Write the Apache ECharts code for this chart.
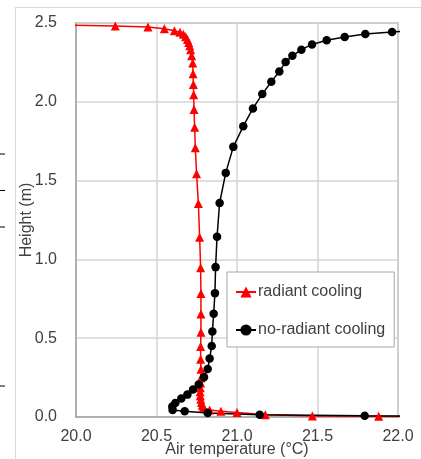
<!DOCTYPE html>
<html>
<head>
<meta charset="utf-8">
<script src="https://cdn.jsdelivr.net/npm/echarts@6/dist/echarts.min.js"></script>
<style>
html,body{margin:0;padding:0;background:#fff;}
#c{width:421px;height:459px;}
</style>
</head>
<body>
<div id="c"></div>
<script>
// Axis ticks
var xTicks = [20.0, 20.5, 21.0, 21.5, 22.0];
var yTicks = [0.0, 0.5, 1.0, 1.5, 2.0, 2.5];

// Series names
var seriesNames = ['radiant cooling', 'no-radiant cooling'];

// radiant cooling (red triangles): temperature (°C) and height (m)
var radiantTemp = [19.8, 20.244, 20.447, 20.549, 20.611, 20.646, 20.667, 20.681, 20.692, 20.700, 20.706, 20.712, 20.718, 20.725, 20.727, 20.729, 20.731, 20.733, 20.737, 20.741, 20.749, 20.760, 20.768, 20.774, 20.776, 20.776, 20.776, 20.774, 20.774, 20.776, 20.776, 20.774, 20.772, 20.771, 20.772, 20.775, 20.779, 20.784, 20.790, 20.830, 20.900, 21.000, 21.176, 21.468, 21.880, 22.2];
var radiantHeight = [2.490, 2.481, 2.475, 2.464, 2.451, 2.441, 2.428, 2.413, 2.396, 2.377, 2.356, 2.331, 2.292, 2.246, 2.178, 2.110, 2.044, 1.951, 1.839, 1.708, 1.544, 1.354, 1.140, 0.947, 0.784, 0.653, 0.538, 0.447, 0.367, 0.303, 0.248, 0.215, 0.185, 0.160, 0.135, 0.112, 0.092, 0.075, 0.060, 0.045, 0.037, 0.028, 0.014, 0.006, 0.004, 0.003];

// no-radiant cooling (black circles): temperature (°C) and height (m)
var noRadiantTemp = [22.15, 21.963, 21.797, 21.669, 21.557, 21.466, 21.400, 21.344, 21.302, 21.263, 21.213, 21.157, 21.099, 21.039, 20.977, 20.930, 20.892, 20.876, 20.867, 20.863, 20.855, 20.847, 20.843, 20.830, 20.818, 20.795, 20.762, 20.727, 20.692, 20.654, 20.617, 20.598, 20.600, 20.675, 20.818, 21.141, 21.793, 22.3];
var noRadiantHeight = [2.455, 2.443, 2.430, 2.411, 2.390, 2.364, 2.331, 2.292, 2.252, 2.193, 2.127, 2.049, 1.958, 1.845, 1.714, 1.549, 1.358, 1.144, 0.951, 0.786, 0.655, 0.542, 0.451, 0.371, 0.305, 0.252, 0.206, 0.174, 0.142, 0.117, 0.089, 0.066, 0.045, 0.036, 0.025, 0.015, 0.008, 0.005];

function zip(a, b) { return a.map(function (v, i) { return [v, b[i]]; }); }

var FONT = 'Liberation Sans';
var chart = echarts.init(document.getElementById('c'), null, {renderer: 'canvas'});
chart.setOption({
  animation: false,
  backgroundColor: '#fff',
  textStyle: {fontFamily: FONT},
  grid: {left: 76, right: 23, top: 23, bottom: 42, show: true, borderColor: '#a6a6a6', borderWidth: 1.5, backgroundColor: 'transparent', outerBoundsMode: 'none', containLabel: false},
  xAxis: {
    type: 'value', min: xTicks[0], max: xTicks[xTicks.length - 1], interval: 0.5,
    name: 'Air temperature (°C)', nameLocation: 'middle', nameGap: 25, nameMoveOverlap: false,
    nameTextStyle: {fontSize: 16, color: '#404040', fontFamily: FONT},
    axisLine: {show: true, lineStyle: {color: '#a6a6a6', width: 1.5}},
    axisTick: {show: false},
    axisLabel: {fontSize: 16, color: '#404040', margin: 12, fontFamily: FONT, formatter: function (v) { return v.toFixed(1); }},
    splitLine: {show: true, lineStyle: {color: '#d4d4d4', width: 1.5}}
  },
  yAxis: {
    type: 'value', min: yTicks[0], max: yTicks[yTicks.length - 1], interval: 0.5,
    name: 'Height (m)', nameLocation: 'middle', nameGap: 41, nameRotate: 90, nameMoveOverlap: false,
    nameTextStyle: {fontSize: 16, color: '#404040', fontFamily: FONT},
    axisLine: {show: true, lineStyle: {color: '#a6a6a6', width: 1.5}},
    axisTick: {show: false},
    axisLabel: {fontSize: 16, color: '#404040', margin: 19, fontFamily: FONT, formatter: function (v) { return v.toFixed(1); }},
    splitLine: {show: true, lineStyle: {color: '#d4d4d4', width: 1.5}}
  },
  legend: {
    orient: 'vertical', left: 227, top: 272,
    padding: [12, 9, 9, 8], itemGap: 22, itemWidth: 20, itemHeight: 14,
    borderColor: '#a6a6a6', borderWidth: 1, backgroundColor: '#fff',
    textStyle: {fontSize: 16, color: '#404040', fontFamily: FONT, padding: [0, 0, 0, -3]},
    data: seriesNames
  },
  series: [
    {
      name: seriesNames[0], type: 'line', data: zip(radiantTemp, radiantHeight),
      symbol: 'triangle', symbolSize: 9, showAllSymbol: true, clip: true,
      lineStyle: {color: '#ff0000', width: 1.5}, itemStyle: {color: '#ff0000'}
    },
    {
      name: seriesNames[1], type: 'line', data: zip(noRadiantTemp, noRadiantHeight),
      symbol: 'circle', symbolSize: 8.5, showAllSymbol: true, clip: true,
      lineStyle: {color: '#000000', width: 1.5}, itemStyle: {color: '#000000'}
    }
  ],
  graphic: [
    {type: 'line', shape: {x1: 16, y1: 7.5, x2: 421, y2: 7.5}, style: {stroke: '#d9d9d9', lineWidth: 1}},
    {type: 'line', shape: {x1: 15.5, y1: 7, x2: 15.5, y2: 459}, style: {stroke: '#d9d9d9', lineWidth: 1}},
    {type: 'line', shape: {x1: 0, y1: 154, x2: 5, y2: 154}, style: {stroke: '#000', lineWidth: 1}},
    {type: 'line', shape: {x1: 0, y1: 190.5, x2: 5, y2: 190.5}, style: {stroke: '#000', lineWidth: 1}},
    {type: 'line', shape: {x1: 0, y1: 227, x2: 5, y2: 227}, style: {stroke: '#000', lineWidth: 1}},
    {type: 'line', shape: {x1: 0, y1: 386, x2: 5, y2: 386}, style: {stroke: '#000', lineWidth: 1}}
  ]
});
</script>
</body>
</html>
